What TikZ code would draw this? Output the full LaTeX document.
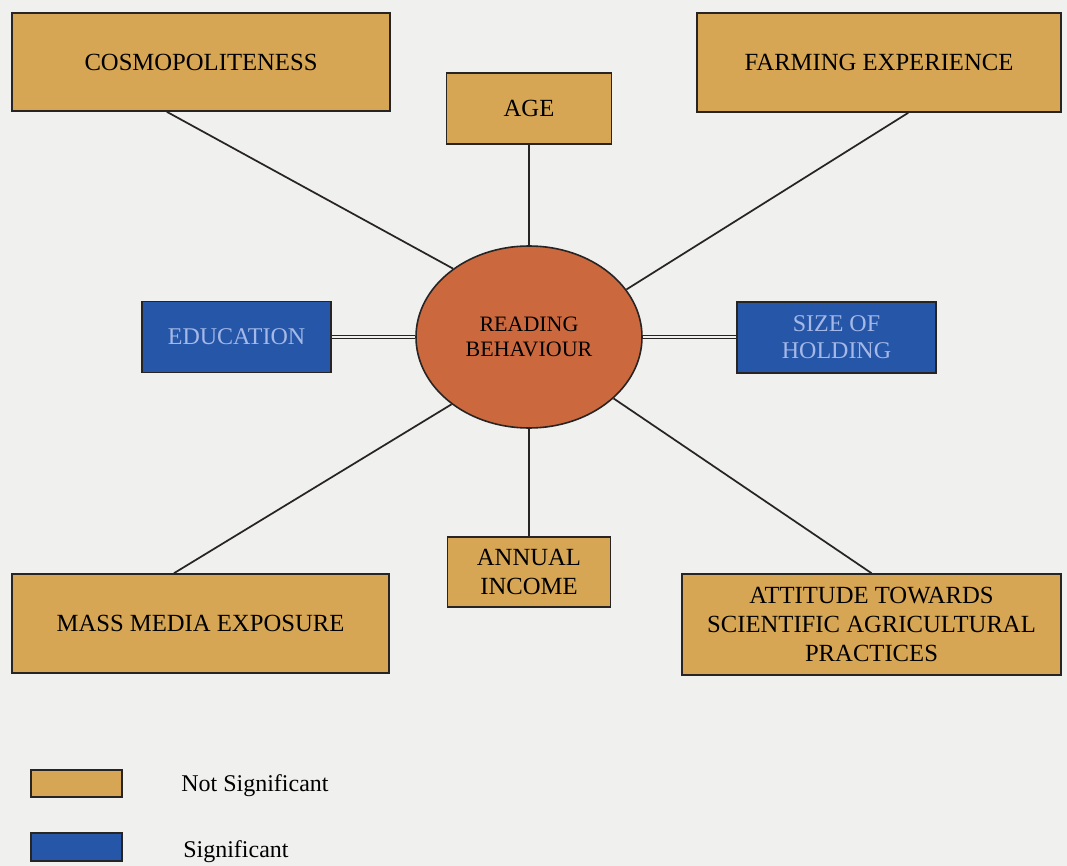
\documentclass[tikz,border=0pt]{standalone}
\usepackage{fontspec}
\setmainfont{Liberation Serif}
\usetikzlibrary{shapes.geometric,calc}
\definecolor{paper}{RGB}{240,240,238}
\definecolor{tan}{RGB}{214,166,84}
\definecolor{sigblue}{RGB}{38,86,168}
\definecolor{bluetext}{RGB}{165,185,232}
\definecolor{rust}{RGB}{204,104,62}
\definecolor{edge}{RGB}{40,36,36}
\tikzset{
  tanbox/.style={draw=edge, line width=1.2pt, fill=tan, inner sep=0pt, align=center,
    font=\fontsize{18.5}{21.5}\selectfont, text=black},
  bluebox/.style={draw=edge, line width=1.2pt, fill=sigblue, inner sep=0pt, align=center,
    font=\fontsize{18}{20.5}\selectfont, text=bluetext},
  hub/.style={ellipse, draw=edge, line width=1.2pt, fill=rust, inner sep=0pt, align=center,
    font=\fontsize{16.5}{19}\selectfont, text=black},
  link/.style={draw=edge, line width=1.3pt},
  dlink/.style={draw=edge, double=paper, double distance=1.5pt, line width=1pt},
  legtext/.style={anchor=west, inner sep=0pt, font=\fontsize{18}{21}\selectfont}
}
\begin{document}
\begin{tikzpicture}[x=0.75pt,y=-0.75pt]
\fill[paper] (0,0) rectangle (1067,866);
\useasboundingbox (0,0) rectangle (1067,866);
\node[tanbox, minimum width=283.5pt, minimum height=73.5pt] (cosmo) at (201,62) {COSMOPOLITENESS};
\node[tanbox, minimum width=123.75pt, minimum height=53.25pt] (age) at (529,108.5) {AGE};
\node[tanbox, minimum width=273pt, minimum height=74.25pt] (farm) at (879,62.5) {FARMING EXPERIENCE};
\node[bluebox, minimum width=141.75pt, minimum height=53.25pt] (edu) at (236.5,337) {EDUCATION};
\node[bluebox, minimum width=149.25pt, minimum height=53.25pt] (size) at (836.5,337.5) {SIZE OF\\HOLDING};
\node[hub, minimum width=169.5pt, minimum height=136.5pt] (rb) at (529,337) {READING\\BEHAVIOUR};
\node[tanbox, minimum width=122.25pt, minimum height=52.5pt] (income) at (529,572) {ANNUAL\\INCOME};
\node[tanbox, minimum width=282.75pt, minimum height=74.25pt] (mass) at (200.5,623.5) {MASS MEDIA EXPOSURE};
\node[tanbox, minimum width=284.25pt, minimum height=75.75pt] (att) at (871.5,624.5) {ATTITUDE TOWARDS\\SCIENTIFIC AGRICULTURAL\\PRACTICES};
% connectors
\draw[link] ($(cosmo.south west)!0.41!(cosmo.south east)$) -- (rb.138);
\draw[link] (age.south) -- (rb.north);
\draw[link] ($(farm.south west)!0.58!(farm.south east)$) -- (rb.26);
\draw[dlink] (edu.east) -- (edu.east -| rb.west);
\draw[dlink] (rb.east) -- (rb.east -| size.west);
\draw[link] ($(mass.north west)!0.43!(mass.north east)$) -- (rb.221);
\draw[link] (rb.south) -- (income.north);
\draw[link] (att.north) -- (rb.324);
% legend
\node[tanbox, minimum width=68.25pt, minimum height=20.25pt] (legns) at (76.5,783.5) {};
\node[bluebox, minimum width=68.25pt, minimum height=21pt] (legs) at (76.5,847) {};
\node[legtext] (legnstext) at (181,786) {Not Significant};
\node[legtext] (legstext) at (183,852) {Significant};
\end{tikzpicture}
\end{document}
